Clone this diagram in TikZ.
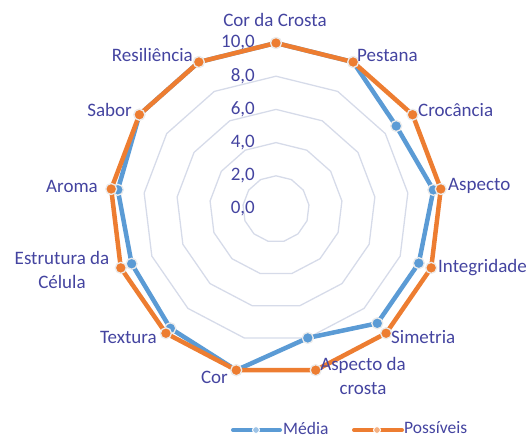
\documentclass[tikz,border=0pt]{standalone}
\usepackage{fontspec}
\setmainfont{Carlito}
\definecolor{txt}{RGB}{68,68,160}
\definecolor{sblue}{RGB}{91,155,213}
\definecolor{sorange}{RGB}{237,125,49}
\definecolor{gridc}{RGB}{214,219,233}
\definecolor{mkedge}{RGB}{235,235,235}
\begin{document}
\begin{tikzpicture}[x=1pt,y=1pt,
  lbl/.style={text=txt,font=\fontsize{19}{24}\selectfont,inner sep=0pt},
  ring/.style={draw=gridc,line width=1.3pt,line join=round},
  serB/.style={draw=sblue,line width=4.5pt,line join=round},
  serO/.style={draw=sorange,line width=4.5pt,line join=round},
  mkB/.style={circle,fill=sblue,draw=mkedge,line width=1.3pt,minimum size=11pt,inner sep=0pt},
  mkO/.style={circle,fill=sorange,draw=mkedge,line width=1.3pt,minimum size=11pt,inner sep=0pt},
  legB/.style={draw=sblue,line width=4pt,line cap=round},
  legO/.style={draw=sorange,line width=4pt,line cap=round},
  legmkB/.style={circle,fill=sblue!60,draw=white,line width=1pt,minimum size=7pt,inner sep=0pt},
  legmkO/.style={circle,fill=sorange!60,draw=white,line width=1pt,minimum size=7pt,inner sep=0pt},
  legtxt/.style={text=txt,font=\fontsize{17.5}{20}\selectfont,inner sep=0pt,anchor=west}
]
\useasboundingbox (-276,-228) rectangle (256,209);
% grid rings
\foreach \k in {1,...,5}{
  \draw[ring] (90:{\k*33.2}) \foreach \i in {1,...,12}{ -- ({90-\i*360/13}:{\k*33.2}) } -- cycle;
}
% value labels
\foreach \k/\t in {0/{0,0},1/{2,0},2/{4,0},3/{6,0},4/{8,0},5/{10,0}}{
  \node[lbl,anchor=east] (v\k) at (-21,{\k*33.2}) {\t};
}
% series coordinates
\foreach \v [count=\i from 0] in {10,10,8.8,9.55,9.2,9.2,8.0,10,9.6,9.3,9.6,10,10}{
  \coordinate (b\i) at ({90-\i*360/13}:{\v*16.6});
}
\foreach \i in {0,...,12}{
  \coordinate (o\i) at ({90-\i*360/13}:166);
}
\draw[serB] (b0) -- (b1) -- (b2) -- (b3) -- (b4) -- (b5) -- (b6) -- (b7) -- (b8) -- (b9) -- (b10) -- (b11) -- (b12) -- cycle;
\foreach \i in {0,...,12}{ \node[mkB] (mb\i) at (b\i) {}; }
\draw[serO] (o0) -- (o1) -- (o2) -- (o3) -- (o4) -- (o5) -- (o6) -- (o7) -- (o8) -- (o9) -- (o10) -- (o11) -- (o12) -- cycle;
\foreach \i in {0,...,12}{ \node[mkO] (mo\i) at (o\i) {}; }
% axis labels
\node[lbl] (l0) at (-1,189) {Cor da Crosta};
\node[lbl,anchor=west] (l1) at (81,154) {Pestana};
\node[lbl,anchor=west] (l2) at (142,99) {Crocância};
\node[lbl,anchor=west] (l3) at (172,23) {Aspecto};
\node[lbl,anchor=west] (l4) at (162,-59) {Integridade};
\node[lbl,anchor=west] (l5) at (115,-128) {Simetria};
\node[lbl,align=center] (l6) at (87,-167) {Aspecto da\\crosta};
\node[lbl,anchor=east] (l7) at (-48,-168) {Cor};
\node[lbl,anchor=east] (l8) at (-119,-128) {Textura};
\node[lbl,align=center] (l9) at (-214,-61) {Estrutura da\\Célula};
\node[lbl,anchor=east] (l10) at (-178,23) {Aroma};
\node[lbl,anchor=east] (l11) at (-144,99) {Sabor};
\node[lbl,anchor=east] (l12) at (-83,154) {Resiliência};
% legend
\coordinate (lb1) at (-43,-221);
\coordinate (lb2) at (4,-221);
\draw[legB] (lb1) -- (lb2);
\node[legmkB] (lbm) at (-20,-221) {};
\node[legtxt] (lbt) at (7,-219) {Média};
\coordinate (lo1) at (78,-221);
\coordinate (lo2) at (126,-221);
\draw[legO] (lo1) -- (lo2);
\node[legmkO] (lom) at (101,-221) {};
\node[legtxt] (lot) at (128,-219) {Possíveis};
\end{tikzpicture}
\end{document}
